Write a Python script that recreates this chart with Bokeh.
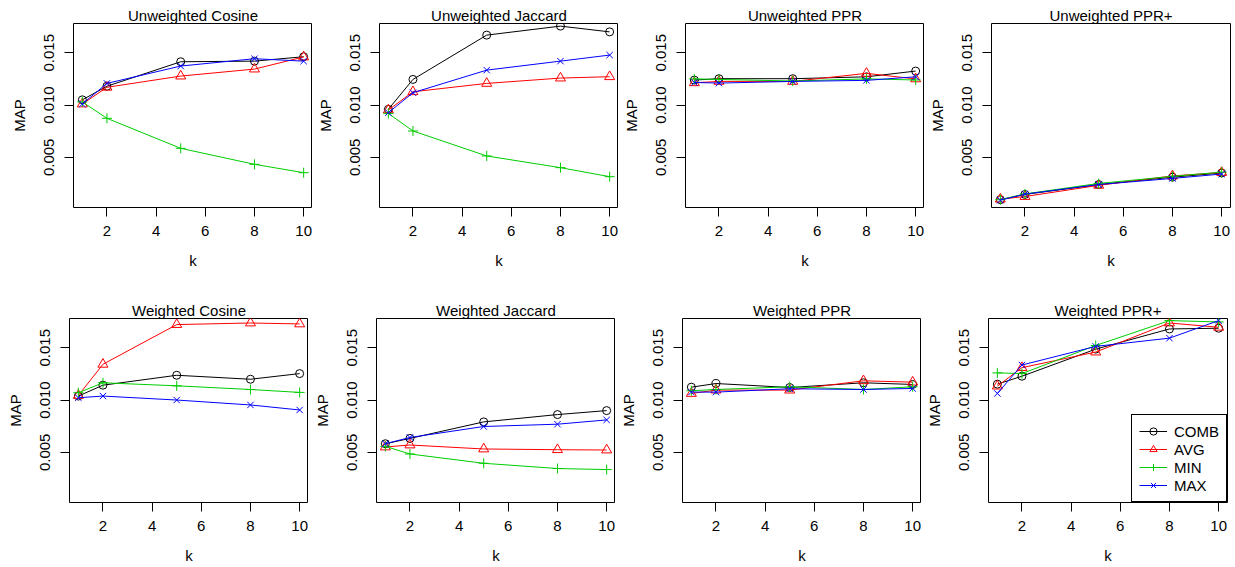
from bokeh.plotting import figure
from bokeh.layouts import row, column
from bokeh.models import (Range1d, FixedTicker, PrintfTickFormatter,
                          Legend, LegendItem)
from bokeh.embed import file_html
from bokeh.resources import INLINE

# ---------------- data ----------------
K = [1, 2, 5, 8, 10]
SERIES = ["COMB", "AVG", "MIN", "MAX"]
COLORS = ["#000000", "#FF0000", "#00CD00", "#0000FF"]
MARKERS = ["circle", "triangle", "cross", "x"]
X_TICKS = [2, 4, 6, 8, 10]
Y_TICKS = [0.005, 0.010, 0.015]
X_LABEL = "k"
Y_LABEL = "MAP"

# Unweighted Cosine
UC_COMB = [0.01050, 0.01180, 0.01414, 0.01420, 0.01462]
UC_AVG = [0.01010, 0.01170, 0.01277, 0.01344, 0.01460]
UC_MIN = [0.01030, 0.00873, 0.00586, 0.00433, 0.00353]
UC_MAX = [0.01010, 0.01207, 0.01373, 0.01443, 0.01420]
# Unweighted Jaccard
UJ_COMB = [0.00959, 0.01245, 0.01669, 0.01755, 0.01700]
UJ_AVG = [0.00952, 0.01127, 0.01207, 0.01258, 0.01271]
UJ_MIN = [0.00920, 0.00752, 0.00513, 0.00401, 0.00315]
UJ_MAX = [0.00927, 0.01118, 0.01334, 0.01420, 0.01478]
# Unweighted PPR
UP_COMB = [0.01239, 0.01252, 0.01252, 0.01270, 0.01325]
UP_AVG = [0.01213, 0.01226, 0.01226, 0.01303, 0.01250]
UP_MIN = [0.01250, 0.01245, 0.01230, 0.01250, 0.01240]
UP_MAX = [0.01216, 0.01210, 0.01226, 0.01236, 0.01270]
# Unweighted PPR+
UPP_COMB = [0.00095, 0.00145, 0.00240, 0.00310, 0.00350]
UPP_AVG = [0.00100, 0.00125, 0.00232, 0.00322, 0.00355]
UPP_MIN = [0.00095, 0.00150, 0.00250, 0.00318, 0.00358]
UPP_MAX = [0.00090, 0.00148, 0.00240, 0.00298, 0.00340]
# Weighted Cosine
WC_COMB = [0.01038, 0.01142, 0.01237, 0.01199, 0.01253]
WC_AVG = [0.01044, 0.01342, 0.01722, 0.01737, 0.01728]
WC_MIN = [0.01070, 0.01165, 0.01136, 0.01101, 0.01073]
WC_MAX = [0.01022, 0.01038, 0.01000, 0.00953, 0.00905]
# Weighted Jaccard
WJ_COMB = [0.00582, 0.00633, 0.00791, 0.00861, 0.00899]
WJ_AVG = [0.00551, 0.00570, 0.00532, 0.00525, 0.00522]
WJ_MIN = [0.00557, 0.00484, 0.00395, 0.00345, 0.00335]
WJ_MAX = [0.00582, 0.00642, 0.00747, 0.00769, 0.00810]
# Weighted PPR
WP_COMB = [0.01123, 0.01158, 0.01120, 0.01165, 0.01149]
WP_AVG = [0.01063, 0.01095, 0.01095, 0.01184, 0.01171]
WP_MIN = [0.01089, 0.01101, 0.01127, 0.01101, 0.01127]
WP_MAX = [0.01076, 0.01076, 0.01108, 0.01101, 0.01111]
# Weighted PPR+
WPP_COMB = [0.01152, 0.01228, 0.01487, 0.01680, 0.01687]
WPP_AVG = [0.01133, 0.01310, 0.01459, 0.01737, 0.01696]
WPP_MIN = [0.01260, 0.01253, 0.01522, 0.01760, 0.01747]
WPP_MAX = [0.01063, 0.01335, 0.01513, 0.01592, 0.01760]

TOP_ROW = [
    ("Unweighted Cosine", [UC_COMB, UC_AVG, UC_MIN, UC_MAX]),
    ("Unweighted Jaccard", [UJ_COMB, UJ_AVG, UJ_MIN, UJ_MAX]),
    ("Unweighted PPR", [UP_COMB, UP_AVG, UP_MIN, UP_MAX]),
    ("Unweighted PPR+", [UPP_COMB, UPP_AVG, UPP_MIN, UPP_MAX]),
]
BOTTOM_ROW = [
    ("Weighted Cosine", [WC_COMB, WC_AVG, WC_MIN, WC_MAX]),
    ("Weighted Jaccard", [WJ_COMB, WJ_AVG, WJ_MIN, WJ_MAX]),
    ("Weighted PPR", [WP_COMB, WP_AVG, WP_MIN, WP_MAX]),
    ("Weighted PPR+", [WPP_COMB, WPP_AVG, WPP_MIN, WPP_MAX]),
]

X_RANGE = (0.64, 10.36)
Y_RANGE = (0.0002, 0.0178)

FONT = "Liberation Sans"
FS = "15px"
MARKER_SIZES = {"circle": 8, "triangle": 10, "cross": 10, "x": 9}

# layout geometry (pixels)
FRAME_W = 239
TOP_LEFT_BORDERS = [73, 67, 67, 67]
TOP_RIGHT_BORDERS = [0, 0, 0, 5]
BOT_LEFT_BORDERS = [69, 68, 67, 67]
BOT_RIGHT_BORDERS = [0, 0, 0, 8]


def make_panel(title, series, frame_h, bl, br, bt, bb, legend=False):
    p = figure(frame_width=FRAME_W, frame_height=frame_h,
               min_border_left=bl, min_border_right=br,
               min_border_top=bt, min_border_bottom=bb,
               x_range=Range1d(*X_RANGE), y_range=Range1d(*Y_RANGE),
               toolbar_location=None, output_backend="svg")
    p.background_fill_color = "white"
    p.border_fill_color = "white"
    p.outline_line_color = "black"
    p.outline_line_width = 1
    p.outline_line_alpha = 1
    p.grid.visible = False

    p.title.text = title
    p.title.align = "center"
    p.title.text_font = FONT
    p.title.text_font_size = FS
    p.title.text_font_style = "normal"
    p.title.text_color = "black"
    p.title.standoff = 0

    p.xaxis.ticker = FixedTicker(ticks=X_TICKS)
    p.yaxis.ticker = FixedTicker(ticks=Y_TICKS)
    p.yaxis.formatter = PrintfTickFormatter(format="%.3f")
    p.xaxis.axis_label = X_LABEL
    p.yaxis.axis_label = Y_LABEL
    for ax in (p.xaxis, p.yaxis):
        ax.axis_line_color = None
        ax.major_tick_out = 9
        ax.major_tick_in = 0
        ax.minor_tick_out = 0
        ax.minor_tick_in = 0
        ax.major_tick_line_color = "black"
        ax.major_label_text_font = FONT
        ax.major_label_text_font_size = FS
        ax.major_label_text_color = "black"
        ax.axis_label_text_font = FONT
        ax.axis_label_text_font_size = FS
        ax.axis_label_text_font_style = "normal"
        ax.axis_label_text_color = "black"
    p.xaxis.major_label_standoff = 9
    p.xaxis.axis_label_standoff = 13
    p.yaxis.major_label_standoff = 10
    p.yaxis.axis_label_standoff = 14
    p.yaxis.major_label_orientation = "vertical"

    items = []
    for name, vals, col, mk in zip(SERIES, series, COLORS, MARKERS):
        lr = p.line(K, vals, line_color=col, line_width=1)
        sr = p.scatter(K, vals, marker=mk, size=MARKER_SIZES[mk],
                       line_color=col, fill_color=None, line_width=1)
        items.append(LegendItem(label=name, renderers=[lr, sr]))

    if legend:
        leg = Legend(items=items, location="bottom_right", margin=0, padding=7,
                     spacing=0, glyph_width=28, glyph_height=18, label_height=18,
                     label_standoff=7, border_line_color="black",
                     border_line_width=1, border_line_alpha=1,
                     label_text_font=FONT, label_text_font_size=FS,
                     label_text_color="black",
                     background_fill_color="white", background_fill_alpha=1)
        p.add_layout(leg)
    return p


top = []
for i, (t, s) in enumerate(TOP_ROW):
    top.append(make_panel(t, s, 184, TOP_LEFT_BORDERS[i], TOP_RIGHT_BORDERS[i],
                          23, 83))
bottom = []
for i, (t, s) in enumerate(BOTTOM_ROW):
    bottom.append(make_panel(t, s, 184, BOT_LEFT_BORDERS[i], BOT_RIGHT_BORDERS[i],
                             28, 65, legend=(i == 3)))

layout = column(row(*top), row(*bottom))
open("out.html", "w").write(file_html(layout, INLINE))
